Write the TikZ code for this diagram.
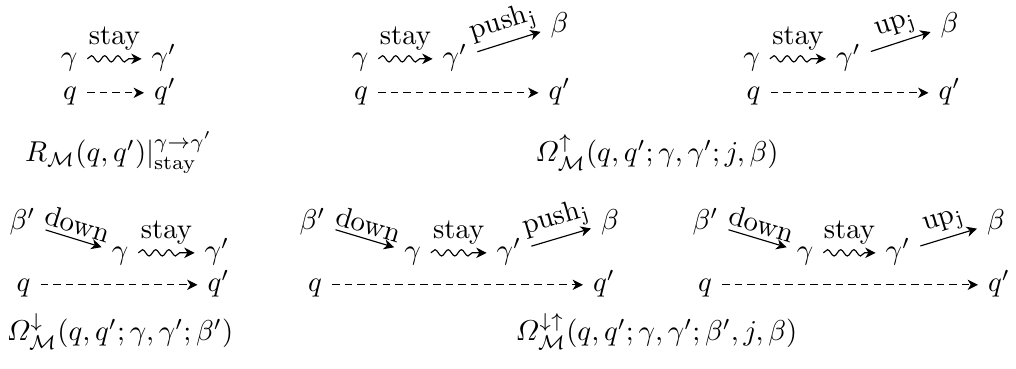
\documentclass[tikz,border=0pt]{standalone}
\usepackage{amsmath,amssymb}
\usetikzlibrary{arrows.meta,decorations.pathmorphing}
\begin{document}
\begin{tikzpicture}[x=0.3484pt,y=-0.3484pt,
  m/.style={anchor=base, text height=7pt, text depth=2pt, inner sep=3.33pt},
  tip/.style={-{Stealth[length=3.6pt,width=3.6pt,inset=1.1pt]}},
  wav/.style={tip, decorate, decoration={snake, amplitude=1.1pt, segment length=4.6pt, post length=3pt}},
  dsh/.style={tip, dash pattern=on 2.6pt off 1.8pt},
  lab/.style={above, inner sep=2.6pt},
  slab/.style={above, sloped, inner sep=1.5pt},
  captext/.style={anchor=base}]
\useasboundingbox (0,0) rectangle (1016,369);
% ---------- panel 1
\node[m] (g1) at (69,66) {$\gamma$};
\node[m] (g1p) at (164,66) {$\gamma'$};
\node[m] (q1) at (70,100) {$q$};
\node[m] (q1p) at (165,100) {$q'$};
\draw[wav] (g1) -- node[lab] {stay} (g1p);
\draw[dsh] (q1) -- (q1p);
\node[captext] (c1) at (119,162) {$R_{\mathcal{M}}(q,q')|^{\gamma\to\gamma'}_{\mathrm{stay}}$};
% ---------- panel 2
\node[m] (g2) at (360,66) {$\gamma$};
\node[m] (g2p) at (455,66) {$\gamma'$};
\node[m] (b2) at (559.5,33) {$\beta$};
\node[m] (q2) at (361,100) {$q$};
\node[m] (q2p) at (559.5,100) {$q'$};
\draw[wav] (g2) -- node[lab] {stay} (g2p);
\draw[tip] (g2p) -- node[slab] {push$_{\mathrm{j}}$} (b2);
\draw[dsh] (q2) -- (q2p);
% ---------- panel 3
\node[m] (g3) at (751.5,66) {$\gamma$};
\node[m] (g3p) at (848.5,66) {$\gamma'$};
\node[m] (b3) at (949.5,33) {$\beta$};
\node[m] (q3) at (753.5,100) {$q$};
\node[m] (q3p) at (949.5,100) {$q'$};
\draw[wav] (g3) -- node[lab] {stay} (g3p);
\draw[tip] (g3p) -- node[slab] {up$_{\mathrm{j}}$} (b3);
\draw[dsh] (q3) -- (q3p);
\node[captext] (c2) at (657,162) {$\varOmega^{\uparrow}_{\mathcal{M}}(q,q';\gamma,\gamma';j,\beta)$};
% ---------- panel 4
\node[m] (bp4) at (22.5,230) {$\beta'$};
\node[m] (g4) at (120,260) {$\gamma$};
\node[m] (g4p) at (217,260) {$\gamma'$};
\node[m] (q4) at (23.5,292) {$q$};
\node[m] (q4p) at (218.5,292) {$q'$};
\draw[tip] (bp4) -- node[slab] {down} (g4);
\draw[wav] (g4) -- node[lab] {stay} (g4p);
\draw[dsh] (q4) -- (q4p);
\node[captext] (c3) at (120,341) {$\varOmega^{\downarrow}_{\mathcal{M}}(q,q';\gamma,\gamma';\beta')$};
% ---------- panel 5
\node[m] (bp5) at (312.5,230) {$\beta'$};
\node[m] (g5) at (412.5,260) {$\gamma$};
\node[m] (g5p) at (509,260) {$\gamma'$};
\node[m] (b5) at (610,230) {$\beta$};
\node[m] (q5) at (315,292) {$q$};
\node[m] (q5p) at (604,292) {$q'$};
\draw[tip] (bp5) -- node[slab] {down} (g5);
\draw[wav] (g5) -- node[lab] {stay} (g5p);
\draw[tip] (g5p) -- node[slab] {push$_{\mathrm{j}}$} (b5);
\draw[dsh] (q5) -- (q5p);
% ---------- panel 6
\node[m] (bp6) at (705.5,230) {$\beta'$};
\node[m] (g6) at (805,260) {$\gamma$};
\node[m] (g6p) at (898,260) {$\gamma'$};
\node[m] (b6) at (996,230) {$\beta$};
\node[m] (q6) at (705,292) {$q$};
\node[m] (q6p) at (999,292) {$q'$};
\draw[tip] (bp6) -- node[slab] {down} (g6);
\draw[wav] (g6) -- node[lab] {stay} (g6p);
\draw[tip] (g6p) -- node[slab] {up$_{\mathrm{j}}$} (b6);
\draw[dsh] (q6) -- (q6p);
\node[captext] (c4) at (656.5,341) {$\varOmega^{\downarrow\uparrow}_{\mathcal{M}}(q,q';\gamma,\gamma';\beta',j,\beta)$};
\end{tikzpicture}
\end{document}
